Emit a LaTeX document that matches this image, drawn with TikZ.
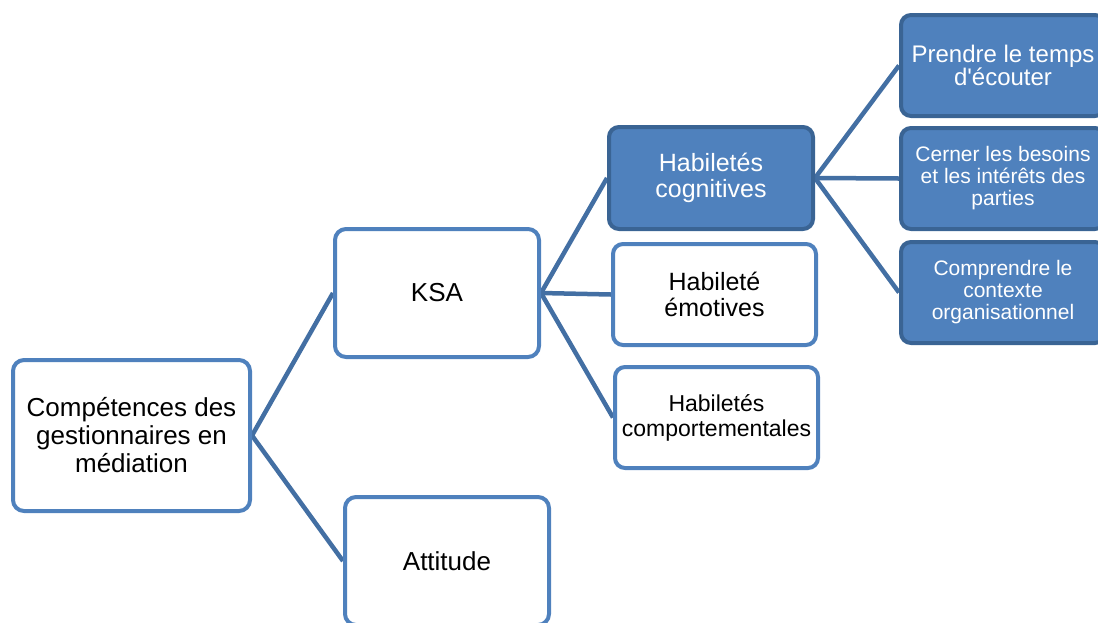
\documentclass[tikz,border=0pt]{standalone}
\usepackage{fontspec}
\usetikzlibrary{backgrounds}
\setmainfont{Liberation Sans}
\newfontfamily\straightap{Liberation Sans}
\definecolor{acc}{HTML}{4F81BD}
\definecolor{accdark}{HTML}{3A6494}
\definecolor{conn}{HTML}{436FA3}
\begin{document}
\begin{tikzpicture}[x=1pt,y=-1pt,
  plain/.style={draw=acc, line width=4pt, fill=white, rounded corners=11pt, align=center, inner sep=0pt, text=black},
  filled/.style={draw=accdark, line width=4pt, fill=acc, rounded corners=10pt, align=center, inner sep=0pt, text=white},
  conn/.style={draw=conn, line width=4.5pt},
  fA/.style={font=\fontsize{26}{28}\selectfont},
  fB/.style={font=\fontsize{25}{26}\selectfont},
  fC/.style={font=\fontsize{23}{25}\selectfont},
  fD/.style={font=\fontsize{21}{22}\selectfont}]
\useasboundingbox (0,0) rectangle (1098,622);
\clip (0,0) rectangle (1098,622);

\node[plain, fA, minimum width=237pt, minimum height=151pt] (root) at (131.5,435.5) {Compétences des\\gestionnaires en\\médiation};
\node[plain, fA, minimum width=204pt, minimum height=128pt] (ksa) at (437,293) {KSA};
\node[plain, fA, minimum width=204pt, minimum height=128pt] (att) at (447,561) {Attitude};
\node[filled, fB, minimum width=204pt, minimum height=102pt] (cog) at (711,178) {Habiletés\\cognitives};
\node[plain, fB, rounded corners=10pt, minimum width=203pt, minimum height=101pt] (emo) at (714.5,294.5) {Habileté\\émotives};
\node[plain, fC, rounded corners=10pt, minimum width=203pt, minimum height=101pt] (com) at (716.5,417.5) {Habiletés\\comportementales};
\node[filled, font=\fontsize{24}{23}\selectfont, minimum width=204pt, minimum height=101pt] (pre) at (1003,65.5) {Prendre le temps\\d{\straightap'}écouter};
\node[filled, fD, minimum width=204pt, minimum height=101pt] (cer) at (1003,178.5) {Cerner les besoins\\et les intérêts des\\parties};
\node[filled, fD, minimum width=204pt, minimum height=101pt] (cpr) at (1003,292.5) {Comprendre le\\contexte\\organisationnel};

\begin{pgfonlayer}{background}
\draw[conn] (ksa.west) -- (root.east) -- (att.west);
\draw[conn] (cog.west) -- (ksa.east) -- (com.west);
\draw[conn] (ksa.east) -- (emo.west);
\draw[conn] (pre.west) -- (cog.east) -- (cpr.west);
\draw[conn] (cog.east) -- (cer.west);
\end{pgfonlayer}
\end{tikzpicture}
\end{document}
